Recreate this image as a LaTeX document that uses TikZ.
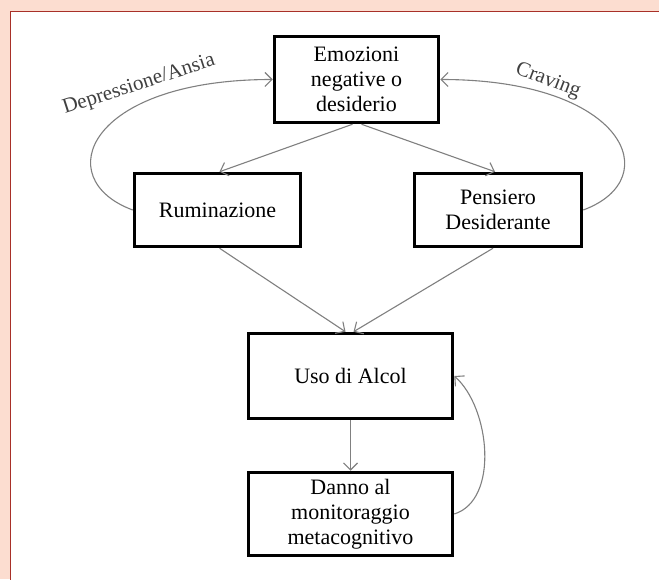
\documentclass[tikz,border=0pt]{standalone}
\usepackage{fontspec}
\setmainfont{Liberation Serif}
\usetikzlibrary{arrows.meta,positioning}
\definecolor{framepink}{RGB}{252,221,208}
\definecolor{framered}{RGB}{168,48,40}

\begin{document}
\begin{tikzpicture}[x=1pt,y=1pt,on grid,
  box/.style={draw,line width=3.5pt,rectangle,align=center,inner sep=0pt,
    font=\fontsize{22}{25}\selectfont},
  flow/.style={draw=gray,line width=1.1pt,-{Straight Barb[length=7pt,width=14pt]}},
  lbl/.style={font=\fontsize{21}{24}\selectfont,text=black!75}]
\useasboundingbox (0,0) rectangle (659,579);
\fill[framepink] (0,0) rectangle (659,579);
\filldraw[fill=white,draw=framered,line width=1.5pt] (10.5,-10) rectangle (670,567.5);

\node[box,minimum width=164pt,minimum height=86pt] (emo) at (356.5,499.5) {Emozioni\\negative o\\desiderio};
\node[box,minimum width=166pt,minimum height=73pt,below left=130.5pt and 139pt of emo] (rum) {Ruminazione};
\node[box,minimum width=167pt,minimum height=73pt,below right=130.5pt and 141.5pt of emo] (pens) {Pensiero\\Desiderante};
\node[box,minimum width=204pt,minimum height=85pt] (uso) at (350.5,203) {Uso di Alcol};
\node[box,minimum width=204pt,minimum height=83pt,below=138pt of uso] (danno) {Danno al\\monitoraggio\\metacognitivo};

\node[lbl,rotate=18] (dep) at (139,494) {Depressione/Ansia};
\node[lbl,rotate=-21] (crav) at (548,498) {Craving};

\path ([xshift=-4pt]emo.south) edge[flow] ([xshift=2pt]rum.north)
      ([xshift=5pt]emo.south) edge[flow] ([xshift=-3pt]pens.north)
      ([xshift=2pt]rum.south) edge[flow] ([xshift=-5pt]uso.north)
      ([xshift=-5pt]pens.south) edge[flow] ([xshift=3pt]uso.north)
      (uso.south) edge[flow] (danno.north);

% ritorni
\draw[flow] (rum.west) .. controls +(-84,31) and +(-185,0) .. (emo.west);
\draw[flow] (pens.east) .. controls +(84,31) and +(185,0) .. (emo.east);
\draw[flow] (danno.east) .. controls +(45,14) and +(36,-32) .. (uso.east);

\end{tikzpicture}
\end{document}
